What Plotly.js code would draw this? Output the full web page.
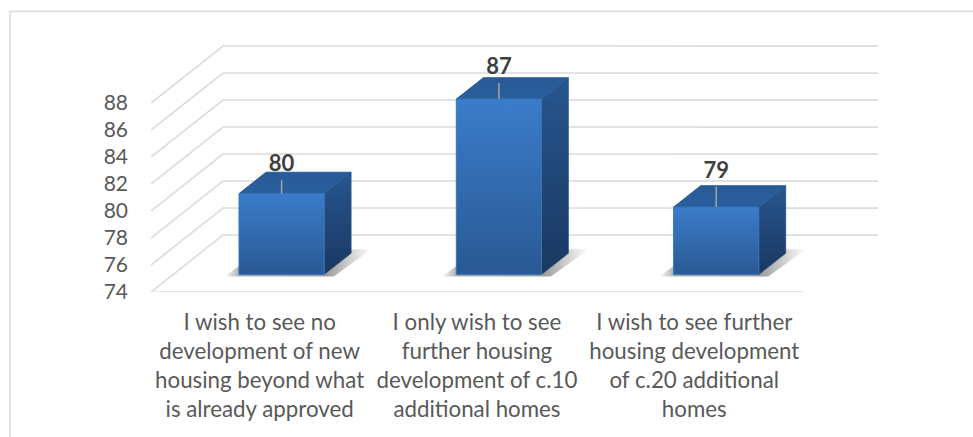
<!DOCTYPE html>
<html>
<head>
<meta charset="utf-8">
<script src="https://cdn.plot.ly/plotly-3.0.1.min.js"></script>
<style>html,body{margin:0;padding:0;background:#fff;overflow:hidden}#chart{width:973px;height:437px}</style>
</head>
<body>
<div id="chart"></div>
<script>
// ---- data ----
const categories = [
  "I wish to see no<br>development of new<br>housing beyond what<br>is already approved",
  "I only wish to see<br>further housing<br>development of c.10<br>additional homes",
  "I wish to see further<br>housing development<br>of c.20 additional<br>homes"
];
const values = [80, 87, 79];
const tickValues = [74, 76, 78, 80, 82, 84, 86, 88];

// ---- oblique projection, expressed in axis units ----
const margin = {l: 151, r: 95, t: 40, b: 145};
const W = 973, H = 437;
const plotW = W - margin.l - margin.r, plotH = H - margin.t - margin.b;
const catPx = 217.3;                    // px per category on the front edge
const unitPx = 13.5;                    // px per value unit
const depthX = 72 / catPx;              // wall depth in category units
const depthY = 57 / unitPx;             // wall depth in value units
const base = tickValues[0];
const halfW = 42.6 / catPx;
const d0 = 0.305, d1 = 0.68;            // bar front / back in wall-depth fractions
const P = (c, v, d) => [c + d * depthX, v + d * depthY];
const xMin = -0.5, xFront = 2.5, xMax = xMin + plotW / catPx;
const yMax = base + plotH / unitPx;

const traces = [];
function poly(pts, grad, line) {
  const xs = pts.map(p => p[0]), ys = pts.map(p => p[1]);
  xs.push(xs[0]); ys.push(ys[0]);
  traces.push({type: 'scatter', mode: 'lines', x: xs, y: ys, fill: 'toself',
    fillgradient: grad, line: line || {width: 0}, hoverinfo: 'skip', showlegend: false});
}
function path(pts, color, width) {
  traces.push({type: 'scatter', mode: 'lines', x: pts.map(p => p[0]), y: pts.map(p => p[1]),
    line: {color: color, width: width}, hoverinfo: 'skip', showlegend: false, cliponaxis: false});
}

// walls and floor
tickValues.forEach(t => path([P(xMin, t, 0), P(xMin, t, 1), P(xMax, t, 0.999)], '#dcdcdc', 1.7));
path([P(xMin, base, 0), P(xFront, base, 0)], '#dcdcdc', 1.7);

// bars
values.forEach((v, c) => {
  const L = c - halfW, R = c + halfW;
  const s = 0.055;
  // floor shadow
  poly([P(L - s, base, d0 - 0.035), P(R + s, base, d0 - 0.035), P(R + s + 0.015, base, d1 + 0.07), P(L - s + 0.015, base, d1 + 0.07)],
    {type: 'horizontal', colorscale: [[0, 'rgba(80,80,80,0)'], [0.1, 'rgba(80,80,80,0.45)'], [0.7, 'rgba(80,80,80,0.55)'], [1, 'rgba(80,80,80,0)']]});
  // side
  poly([P(R, base, d0), P(R, base, d1), P(R, v, d1), P(R, v, d0)],
    {type: 'vertical', colorscale: [[0, '#1a3861'], [1, '#27568f']]}, {color: '#234e84', width: 0.5});
  // top
  poly([P(L, v, d0), P(R, v, d0), P(R, v, d1), P(L, v, d1)],
    {type: 'vertical', colorscale: [[0, '#2a5f9f'], [1, '#285a96']]}, {color: '#2a5d9b', width: 1});
  // front
  poly([P(L, base, d0), P(R, base, d0), P(R, v, d0), P(L, v, d0)],
    {type: 'vertical', colorscale: [[0, '#2a5993'], [1, '#3b7cca']]}, {color: '#3674bd', width: 1});
});

// leader lines and value labels
const leaderLen = [1.0, 1.2, 1.5];
const labelLift = [2.05, 2.3, 2.6];
values.forEach((v, c) => {
  const a = P(c, v, d0);
  path([a, [a[0], a[1] + leaderLen[c]]], '#a6a6a6', 1.5);
});
traces.push({type: 'scatter', mode: 'text',
  x: values.map((v, c) => P(c, v, d0)[0]),
  y: values.map((v, c) => P(c, v, d0)[1] + labelLift[c]),
  text: values.map(String), textposition: 'middle center',
  textfont: {family: 'Lato, sans-serif', size: 22, color: '#404040', weight: 700},
  hoverinfo: 'skip', showlegend: false, cliponaxis: false});

const fx = px => (px - margin.l) / plotW;
const fy = py => 1 - (py - margin.t) / plotH;

const layout = {
  width: W, height: H, margin: margin,
  paper_bgcolor: '#fff', plot_bgcolor: '#fff', showlegend: false,
  font: {family: 'Lato, sans-serif', color: '#595959', size: 21},
  xaxis: {range: [xMin, xMax], tickmode: 'array', tickvals: [0, 1, 2], ticktext: categories,
    showgrid: false, zeroline: false, showline: false, ticks: '', ticklabelstandoff: 15,
    tickangle: 0, tickfont: {size: 22.3, color: '#595959'}},
  yaxis: {range: [base, yMax], tickmode: 'array', tickvals: tickValues,
    showgrid: false, zeroline: false, showline: false, ticks: '', ticklabelstandoff: 22,
    tickfont: {size: 21, color: '#595959'}},
  shapes: [{type: 'path', xref: 'paper', yref: 'paper',
    path: `M ${fx(10)} ${fy(440)} L ${fx(10)} ${fy(11.5)} L ${fx(976)} ${fy(11.5)}`,
    line: {color: '#d9d9d9', width: 1.5}, layer: 'below'}]
};
Plotly.newPlot('chart', traces, layout, {displayModeBar: false, staticPlot: true});
</script>
</body>
</html>
